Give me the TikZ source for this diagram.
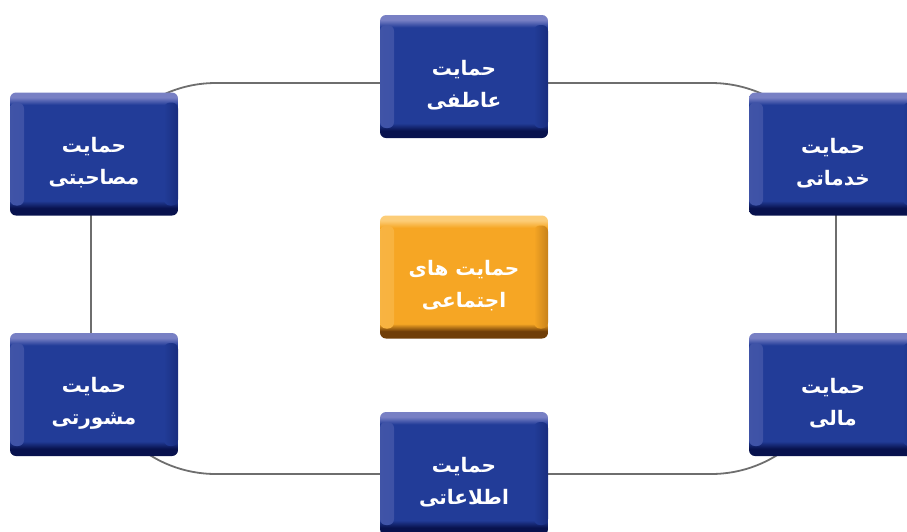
\documentclass[tikz,border=0pt]{standalone}
\usepackage{fontspec}
\newfontfamily\arabicfont[Script=Arabic]{DejaVu Sans}
\TeXXeTstate=1
\definecolor{bmain}{RGB}{34,60,152}
\definecolor{blight}{RGB}{120,128,196}
\definecolor{bdark}{RGB}{8,18,78}
\definecolor{omain}{RGB}{246,166,36}
\definecolor{olight}{RGB}{252,205,120}
\definecolor{odark}{RGB}{112,62,8}
\definecolor{ringgray}{RGB}{110,110,110}
\pgfdeclareverticalshading{bluebox}{100bp}{color(0bp)=(bdark); color(25bp)=(bdark); color(28bp)=(bdark); color(31bp)=(bmain); color(70bp)=(bmain); color(73bp)=(blight); color(75bp)=(blight); color(100bp)=(blight)}
\pgfdeclareverticalshading{orangebox}{100bp}{color(0bp)=(odark); color(25bp)=(odark); color(28bp)=(odark); color(31bp)=(omain); color(70bp)=(omain); color(73bp)=(olight); color(75bp)=(olight); color(100bp)=(olight)}
\begin{document}
\begin{tikzpicture}[x=1pt,y=-1pt,
  bevel/.style n args={3}{path picture={
    \shade[left color=#1!35!#2, right color=#2]
      ([yshift=-10pt]path picture bounding box.north west) rectangle ([xshift=14pt,yshift=10pt]path picture bounding box.south west);
    \shade[left color=#2, right color=#3!35!#2]
      ([xshift=-14pt,yshift=-10pt]path picture bounding box.north east) rectangle ([yshift=10pt]path picture bounding box.south east);}},
  box/.style={minimum width=168pt, minimum height=123pt, rounded corners=6pt,
    shading=bluebox, bevel={blight}{bmain}{bdark}, inner sep=0pt},
  centerbox/.style={box, shading=orangebox, bevel={olight}{omain}{odark}},
  boxtext/.style={text=white, align=center, inner sep=0pt, yshift=-9pt,
    font=\arabicfont\bfseries\fontsize{20}{32}\selectfont},
  ring/.style={draw=ringgray, line width=1.8pt}]
\useasboundingbox (0,0) rectangle (907,531);
\clip (0,0) rectangle (907,531);
\draw[ring, rounded corners=125pt] (91,83) rectangle (836,474);
\node[box, label={[boxtext]center:\beginR حمایت\endR\\\beginR عاطفی\endR}] (emo) at (464,76.5) {};
\node[box, label={[boxtext]center:\beginR حمایت\endR\\\beginR مصاحبتی\endR}] (comp) at (94,154) {};
\node[box, label={[boxtext]center:\beginR حمایت\endR\\\beginR خدماتی\endR}] (serv) at (833,154) {};
\node[centerbox, label={[boxtext]center:\beginR حمایت های\endR\\\beginR اجتماعی\endR}] (soc) at (464,277) {};
\node[box, label={[boxtext]center:\beginR حمایت\endR\\\beginR مشورتی\endR}] (adv) at (94,394.5) {};
\node[box, label={[boxtext]center:\beginR حمایت\endR\\\beginR مالی\endR}] (fin) at (833,394.5) {};
\node[box, label={[boxtext]center:\beginR حمایت\endR\\\beginR اطلاعاتی\endR}] (info) at (464,473.5) {};
\end{tikzpicture}
\end{document}
